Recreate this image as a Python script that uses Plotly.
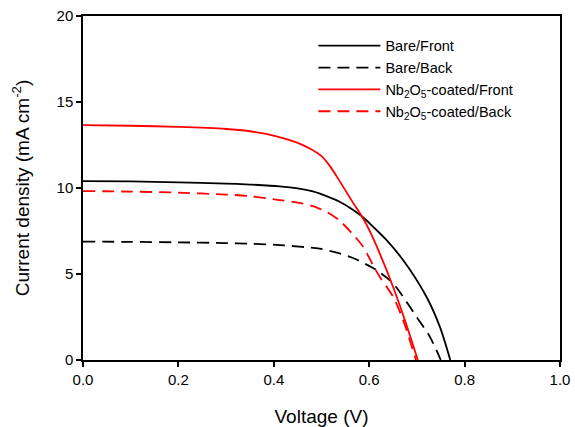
import plotly.graph_objects as go

bare_front_v = [0, 0.1, 0.2, 0.3, 0.35, 0.412, 0.45, 0.482, 0.513, 0.538, 0.565, 0.587, 0.61, 0.636, 0.671, 0.72, 0.748, 0.77]
bare_front_j = [10.40, 10.38, 10.33, 10.26, 10.2, 10.1, 9.98, 9.8, 9.5, 9.2, 8.75, 8.3, 7.7, 6.98, 5.81, 3.68, 1.94, 0.0]

bare_back_v = [0, 0.1, 0.2, 0.3, 0.35, 0.412, 0.496, 0.538, 0.566, 0.608, 0.622, 0.65, 0.671, 0.699, 0.727, 0.75]
bare_back_j = [6.88, 6.87, 6.84, 6.8, 6.76, 6.68, 6.47, 6.2, 5.93, 5.35, 5.1, 4.46, 3.68, 2.52, 1.36, 0.0]

nb_front_v = [0, 0.1, 0.2, 0.3, 0.35, 0.384, 0.419, 0.454, 0.48, 0.5, 0.517, 0.538, 0.566, 0.587, 0.6, 0.622, 0.65, 0.675, 0.702]
nb_front_j = [13.66, 13.62, 13.55, 13.43, 13.3, 13.14, 12.9, 12.58, 12.22, 11.85, 11.3, 10.4, 9.15, 8.24, 7.56, 6.2, 4.26, 2.3, 0.0]

nb_back_v = [0, 0.1, 0.2, 0.3, 0.35, 0.412, 0.45, 0.482, 0.5, 0.515, 0.538, 0.566, 0.587, 0.608, 0.622, 0.65, 0.671, 0.698]
nb_back_j = [9.82, 9.79, 9.73, 9.62, 9.53, 9.3, 9.15, 8.95, 8.75, 8.55, 8.1, 7.3, 6.59, 5.52, 4.84, 3.68, 2.33, 0.0]

x_ticks = [0.0, 0.2, 0.4, 0.6, 0.8, 1.0]
y_ticks = [0, 5, 10, 15, 20]

line_w = 1.8
fig = go.Figure()
fig.add_trace(go.Scatter(x=bare_front_v, y=bare_front_j, mode="lines", name="Bare/Front",
                         line=dict(color="black", width=line_w, shape="spline", smoothing=0.8)))
fig.add_trace(go.Scatter(x=bare_back_v, y=bare_back_j, mode="lines", name="Bare/Back",
                         line=dict(color="black", width=line_w, dash="12px,7px", shape="spline", smoothing=0.8)))
fig.add_trace(go.Scatter(x=nb_front_v, y=nb_front_j, mode="lines", name="Nb<sub>2</sub>O<sub>5</sub>-coated/Front",
                         line=dict(color="red", width=line_w, shape="spline", smoothing=0.8)))
fig.add_trace(go.Scatter(x=nb_back_v, y=nb_back_j, mode="lines", name="Nb<sub>2</sub>O<sub>5</sub>-coated/Back",
                         line=dict(color="red", width=line_w, dash="12px,7px", shape="spline", smoothing=0.8)))

fig.update_layout(
    width=575, height=427,
    margin=dict(l=83, r=15, t=16, b=67),
    paper_bgcolor="white", plot_bgcolor="white",
    font=dict(family="Liberation Sans, Arial, sans-serif", size=16, color="black"),
    legend=dict(x=0.483, y=0.96, xanchor="left", yanchor="top", bgcolor="rgba(0,0,0,0)",
                font=dict(size=14.5), itemwidth=62, tracegroupgap=0),
    xaxis=dict(range=[0, 1.0], tickvals=x_ticks, ticktext=[f"{v:.1f}" for v in x_ticks],
               ticks="outside", ticklen=5, tickwidth=1.5, tickcolor="black",
               tickfont=dict(size=15),
               showline=True, linecolor="black", linewidth=1.5, mirror=True,
               showgrid=False, zeroline=False, automargin=False, ticklabeloverflow="allow",
               title=dict(text="Voltage (V)", standoff=24)),
    yaxis=dict(range=[0, 20], tickvals=y_ticks,
               ticks="outside", ticklen=5, tickwidth=1.5, tickcolor="black",
               tickfont=dict(size=15),
               showline=True, linecolor="black", linewidth=1.5, mirror=True,
               showgrid=False, zeroline=False, automargin=False, ticklabeloverflow="allow",
               title=dict(text="Current density (mA cm<sup>-2</sup>)", standoff=22)),
)

fig.write_html(
    "out.html",
    config={"displayModeBar": False},
    post_script="document.body.style.margin='0px';document.body.style.overflow='hidden';",
)
